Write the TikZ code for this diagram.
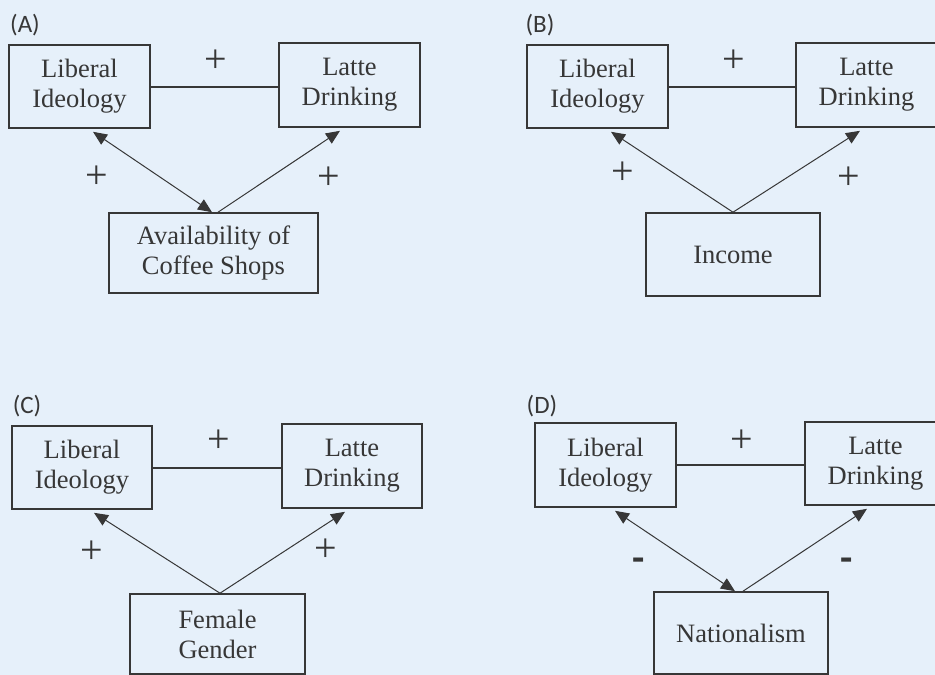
\documentclass[tikz,border=0pt]{standalone}
\usepackage{fontspec}
\setmainfont{Liberation Serif}
\newfontfamily\tagfont{Carlito}
\usetikzlibrary{positioning,arrows.meta}

\definecolor{paneblue}{RGB}{230,240,250}
\definecolor{inkgray}{RGB}{55,55,55}
\newcommand{\diagfont}{\fontsize{26.5}{30}\selectfont}

\tikzset{
  varbox/.style={draw=inkgray, line width=1.6pt, inner sep=0pt, align=center,
    text=inkgray, font=\diagfont},
  tagnode/.style={text=inkgray, font=\tagfont\fontsize{25}{27}\selectfont},
  signnode/.style={text=inkgray, font=\fontsize{40}{40}\selectfont},
  minusnode/.style={text=inkgray, font=\tagfont\bfseries\fontsize{40}{40}\selectfont},
  assoc/.style={draw=inkgray, line width=2pt},
  effect/.style={draw=inkgray, line width=1pt, -{Triangle[length=14pt,width=12pt]}},
  mutual/.style={draw=inkgray, line width=1pt,
    {Triangle[length=14pt,width=12pt]}-{Triangle[length=14pt,width=12pt]}}
}

\begin{document}
\begin{tikzpicture}[x=1pt,y=-1pt]
    \useasboundingbox (0,0) rectangle (935,675);
    \clip (0,0) rectangle (935,675);
    \fill[paneblue] (0,0) rectangle (935,675);

    % panel A
    \node[tagnode] (tagA) at (25,25) {(A)};
    \node[varbox, minimum width=141pt, minimum height=83pt] (libA) at (79.5,86.5) {Liberal\\Ideology};
    \node[varbox, minimum width=141pt, minimum height=84pt] (latA) at (349.5,85) {Latte\\Drinking};
    \node[varbox, minimum width=209pt, minimum height=80pt] (coffee) at (213.5,253) {Availability of\\Coffee Shops};
    \draw[assoc] (libA.east) -- (libA.east -| latA.west);
    \draw[mutual] ([xshift=-1.5pt]coffee.north) -- ([xshift=13.5pt,yshift=-3pt]libA.south);
    \draw[effect] ([xshift=4.5pt]coffee.north) -- ([xshift=-9.5pt,yshift=-3pt]latA.south);
    \node[signnode] (plusA) at (216,61) {+};
    \node[signnode] (plusAl) at (97,177) {+};
    \node[signnode] (plusAr) at (329,178) {+};

    % panel B
    \node[tagnode] (tagB) at (540,25) {(B)};
    \node[varbox, minimum width=141pt, minimum height=83pt] (libB) at (597.5,86.5) {Liberal\\Ideology};
    \node[varbox, minimum width=141pt, minimum height=84pt] (latB) at (866.5,85) {Latte\\Drinking};
    \node[varbox, minimum width=174pt, minimum height=83pt] (income) at (733,254.5) {Income};
    \draw[assoc] (libB.east) -- (libB.east -| latB.west);
    \draw[effect] (income.north) -- ([xshift=13.5pt,yshift=-3pt]libB.south);
    \draw[effect] (income.north) -- ([xshift=-6.5pt,yshift=-3pt]latB.south);
    \node[signnode] (plusB) at (734,61) {+};
    \node[signnode] (plusBl) at (623,173) {+};
    \node[signnode] (plusBr) at (849,178) {+};

    % panel C
    \node[tagnode] (tagC) at (27,406) {(C)};
    \node[varbox, minimum width=140pt, minimum height=83pt] (libC) at (82,467.5) {Liberal\\Ideology};
    \node[varbox, minimum width=140pt, minimum height=84pt] (latC) at (352,466) {Latte\\Drinking};
    \node[varbox, minimum width=175pt, minimum height=80pt] (female) at (217.5,634) {Female\\Gender};
    \draw[assoc] (libC.east) -- (libC.east -| latC.west);
    \draw[effect] ([xshift=2.5pt]female.north) -- ([xshift=12pt,yshift=-3pt]libC.south);
    \draw[effect] ([xshift=2.5pt]female.north) -- ([xshift=-7pt,yshift=-3pt]latC.south);
    \node[signnode] (plusC) at (219,441) {+};
    \node[signnode] (plusCl) at (92,552) {+};
    \node[signnode] (plusCr) at (326,550) {+};

    % panel D
    \node[tagnode] (tagD) at (542,406) {(D)};
    \node[varbox, minimum width=141pt, minimum height=84pt] (libD) at (605.5,465) {Liberal\\Ideology};
    \node[varbox, minimum width=141pt, minimum height=83pt] (latD) at (875.5,463.5) {Latte\\Drinking};
    \node[varbox, minimum width=174pt, minimum height=82pt] (nation) at (741,633) {Nationalism};
    \draw[assoc, line width=1.3pt] (libD.east) -- (libD.east -| latD.west);
    \draw[mutual] ([xshift=-6pt]nation.north) -- ([xshift=9.5pt,yshift=-3pt]libD.south);
    \draw[effect] ([xshift=2pt]nation.north) -- ([xshift=-8.5pt,yshift=-3pt]latD.south);
    \node[signnode] (plusD) at (742,441) {+};
    \node[minusnode] (minusDl) at (639,565) {-};
    \node[minusnode] (minusDr) at (847,565) {-};
\end{tikzpicture}
\end{document}
